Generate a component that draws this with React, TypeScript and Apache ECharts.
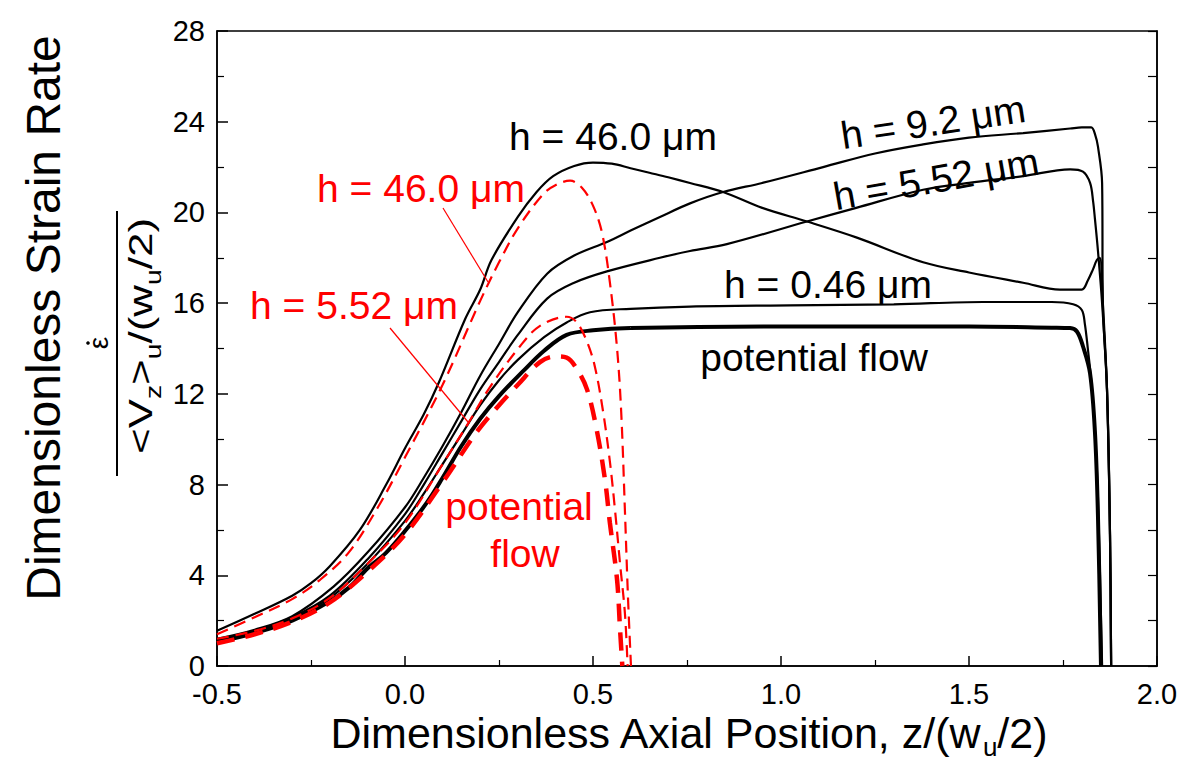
import React, { useEffect, useRef } from 'react';
import * as echarts from 'echarts';

const FONT = '"Liberation Sans", Arial, Helvetica, sans-serif';

// axis ranges / ticks
const X_MIN = -0.5;
const X_MAX = 2.0;
const X_STEP = 0.5;
const Y_MIN = 0;
const Y_MAX = 28;
const Y_STEP = 4;

// Black solid curves (h values)
const black46: number[][] = [
  [-0.5, 1.55], [-0.4, 2.3], [-0.3, 3.1], [-0.25, 3.65], [-0.2, 4.4], [-0.12, 6.0], [-0.05, 8.0],
  [0.0, 9.6], [0.05, 11.1], [0.09, 12.5], [0.16, 15.3], [0.2, 16.6], [0.23, 17.9], [0.3, 19.8],
  [0.35, 20.9], [0.394, 21.6], [0.45, 22.05], [0.5, 22.2], [0.55, 22.15], [0.6, 21.95], [0.65, 21.75],
  [0.7, 21.55], [0.758, 21.3], [0.846, 20.9], [0.95, 20.2], [1.069, 19.6], [1.2, 18.9], [1.378, 17.8],
  [1.5, 17.35], [1.644, 16.9], [1.742, 16.6], [1.8, 16.6], [1.816, 17.0], [1.83, 17.5], [1.84, 17.9],
  [1.848, 18.0], [1.856, 16.0], [1.867, 12.2], [1.875, 5.8], [1.878, 0],
];
const black92: number[][] = [
  [-0.5, 1.2], [-0.4, 1.6], [-0.3, 2.2], [-0.19, 3.5], [-0.1, 5.0], [0.0, 7.0], [0.05, 8.3],
  [0.1, 9.7], [0.15, 11.2], [0.2, 12.8], [0.25, 14.2], [0.3, 15.6], [0.378, 17.3], [0.45, 18.1],
  [0.537, 18.7], [0.6, 19.2], [0.678, 19.8], [0.758, 20.4], [0.846, 20.9], [0.95, 21.3], [1.112, 22.0],
  [1.25, 22.6], [1.378, 23.0], [1.5, 23.3], [1.644, 23.5], [1.769, 23.7], [1.8, 23.75], [1.825, 23.75],
  [1.836, 23.4], [1.843, 22.9], [1.854, 21.3], [1.856, 16.0], [1.867, 12.2], [1.875, 5.8], [1.878, 0],
];
const black552: number[][] = [
  [-0.5, 1.15], [-0.4, 1.55], [-0.3, 2.15], [-0.2, 3.1], [-0.1, 4.7], [0.0, 6.7], [0.05, 8.0],
  [0.1, 9.4], [0.15, 10.8], [0.2, 12.2], [0.25, 13.4], [0.3, 14.6], [0.378, 16.2], [0.45, 16.9],
  [0.537, 17.4], [0.678, 18.0], [0.758, 18.3], [0.856, 18.6], [1.069, 19.6], [1.2, 20.2], [1.378, 21.0],
  [1.5, 21.3], [1.644, 21.6], [1.769, 21.9], [1.803, 21.8], [1.822, 21.3], [1.83, 20.5], [1.835, 19.7],
  [1.843, 18.3], [1.854, 16.0], [1.867, 12.2], [1.875, 5.8], [1.878, 0],
];
const black046: number[][] = [
  [-0.5, 1.1], [-0.4, 1.5], [-0.3, 2.1], [-0.2, 3.0], [-0.1, 4.5], [0.0, 6.4], [0.05, 7.6],
  [0.1, 8.9], [0.15, 10.2], [0.2, 11.5], [0.25, 12.6], [0.3, 13.5], [0.37, 14.5], [0.43, 15.15],
  [0.492, 15.6], [0.6, 15.75], [0.758, 15.85], [1.024, 15.9], [1.3, 15.95], [1.537, 16.05], [1.72, 16.05],
  [1.777, 15.95], [1.8, 15.7], [1.808, 15.1], [1.816, 14.0], [1.825, 12.6], [1.835, 10.4], [1.843, 7.4],
  [1.854, 0],
];
const blackPotential: number[][] = [
  [-0.5, 1.05], [-0.4, 1.45], [-0.3, 2.0], [-0.2, 2.85], [-0.146, 3.5], [-0.1, 4.3], [-0.05, 5.0],
  [0.0, 5.95], [0.058, 7.2], [0.1, 8.3], [0.15, 9.7], [0.2, 10.9], [0.25, 11.9], [0.314, 13.0],
  [0.37, 13.9], [0.43, 14.6], [0.5, 14.8], [0.6, 14.9], [1.0, 14.97], [1.5, 14.97], [1.72, 14.92],
  [1.769, 14.9], [1.787, 14.75], [1.803, 14.1], [1.822, 12.9], [1.835, 10.3], [1.843, 6.6], [1.851, 0],
];

// Red dashed curves
const red46: number[][] = [
  [-0.5, 1.4], [-0.4, 2.15], [-0.3, 2.95], [-0.226, 3.8], [-0.15, 5.0], [-0.072, 7.0], [0.0, 9.2],
  [0.1, 12.4], [0.2, 16.1], [0.25, 17.8], [0.3, 19.3], [0.367, 20.8], [0.4, 21.2], [0.439, 21.4],
  [0.47, 21.1], [0.5, 20.3], [0.524, 19.1], [0.545, 16.9], [0.564, 14.0], [0.575, 11.2], [0.585, 6.8],
  [0.593, 3.05], [0.601, 0],
];
const red552: number[][] = [
  [-0.5, 1.2], [-0.4, 1.55], [-0.3, 2.1], [-0.2, 3.0], [-0.1, 4.5], [0.0, 6.3], [0.1, 8.9],
  [0.168, 10.7], [0.226, 12.3], [0.306, 14.1], [0.359, 15.0], [0.43, 15.4], [0.457, 15.15],
  [0.484, 14.3], [0.505, 13.2], [0.527, 11.2], [0.545, 9.0], [0.559, 6.8], [0.572, 4.5], [0.585, 2.3],
  [0.592, 0],
];
const redPotential: number[][] = [
  [-0.5, 1.0], [-0.4, 1.4], [-0.3, 1.95], [-0.2, 2.8], [-0.1, 4.15], [0.0, 5.8], [0.1, 8.1],
  [0.19, 10.3], [0.25, 11.5], [0.3, 12.4], [0.359, 13.4], [0.4, 13.65], [0.43, 13.6], [0.457, 13.1],
  [0.484, 12.2], [0.51, 10.4], [0.532, 8.2], [0.545, 6.3], [0.564, 3.8], [0.572, 1.6], [0.578, 0],
];

const canvasCtx = typeof document !== 'undefined' ? document.createElement('canvas').getContext('2d') : null;
function measure(t: string, size: number): number {
  if (!canvasCtx) return t.length * size * 0.55;
  canvasCtx.font = `${size}px ${FONT}`;
  return canvasCtx.measureText(t).width;
}

function textEl(text: string, x: number, y: number, size: number, color: string, rotDeg = 0) {
  return {
    type: 'text',
    x,
    y,
    rotation: (rotDeg * Math.PI) / 180,
    silent: true,
    z: 100,
    style: {
      text,
      font: `${size}px ${FONT}`,
      fill: color,
      textAlign: 'center',
      align: 'center',
      textVerticalAlign: 'middle',
      verticalAlign: 'middle',
    },
  };
}

type Seg = { t: string; s: number; dy: number };
function segText(segs: Seg[], cx: number, cy: number, rotation: number, color: string, targetW?: number) {
  const widths = segs.map((s) => measure(s.t, s.s));
  const W = widths.reduce((a, b) => a + b, 0);
  const scale = targetW ? targetW / W : 1;
  let cur = -W / 2;
  const children = segs.map((s, i) => {
    const el = {
      type: 'text',
      x: cur,
      y: s.dy,
      silent: true,
      style: {
        text: s.t,
        font: `${s.s}px ${FONT}`,
        fill: color,
        textAlign: 'left',
        align: 'left',
        textVerticalAlign: 'middle',
        verticalAlign: 'middle',
      },
    };
    cur += widths[i];
    return el;
  });
  return { type: 'group', x: cx, y: cy, rotation, scaleX: scale, z: 100, children };
}

function lineSeries(data: number[][], color: string, width: number, dash?: number[]) {
  return {
    type: 'line',
    data,
    showSymbol: false,
    symbol: 'none',
    smooth: 0.35,
    silent: true,
    clip: true,
    lineStyle: { color, width, type: dash ? dash : 'solid' },
  };
}

export default function App() {
  const ref = useRef<HTMLDivElement>(null);
  useEffect(() => {
    document.body.style.margin = '0';
    const chart = echarts.init(ref.current!, null, { renderer: 'svg' });
    const RED = '#ff0000';
    const LBL = 39;
    const axisLine = { show: true, onZero: false, lineStyle: { color: '#000', width: 1.5 } };
    const graphics: any[] = [
      // y-axis title
      textEl('Dimensionless Strain Rate', 43, 318, 48, '#000', 90),
      // fraction
      { type: 'line', silent: true, shape: { x1: 117, y1: 211, x2: 117, y2: 476 }, style: { stroke: '#000', lineWidth: 2 } },
      textEl('ε', 98, 343, 28, '#000', 90),
      { type: 'circle', silent: true, shape: { cx: 88, cy: 343, r: 1.8 }, style: { fill: '#000' } },
      segText(
        [
          { t: '<V', s: 34, dy: 0 },
          { t: 'z', s: 22, dy: 13 },
          { t: '>', s: 34, dy: 0 },
          { t: 'u', s: 22, dy: 13 },
          { t: '/(w', s: 34, dy: 0 },
          { t: 'u', s: 22, dy: 13 },
          { t: '/2)', s: 34, dy: 0 },
        ],
        140,
        336,
        Math.PI / 2,
        '#000',
        236
      ),
      // x-axis title
      segText(
        [
          { t: 'Dimensionless Axial Position, z/(w', s: 43, dy: 0 },
          { t: 'u', s: 26, dy: 14 },
          { t: '/2)', s: 43, dy: 0 },
        ],
        689,
        733,
        0,
        '#000'
      ),
      // black labels
      textEl('h = 46.0 μm', 613, 136, LBL, '#000'),
      textEl('h = 9.2 μm', 933, 122, LBL, '#000', 8.5),
      textEl('h = 5.52 μm', 936, 179, LBL, '#000', 10),
      textEl('h = 0.46 μm', 828, 284, LBL, '#000'),
      textEl('potential flow', 814, 357, LBL, '#000'),
      // red labels
      textEl('h = 46.0 μm', 421, 188, LBL, RED),
      textEl('h = 5.52 μm', 354, 305, LBL, RED),
      textEl('potential', 519, 506, LBL, RED),
      textEl('flow', 525, 553, LBL, RED),
      { type: 'line', silent: true, z: 100, shape: { x1: 443, y1: 208, x2: 488, y2: 282 }, style: { stroke: RED, lineWidth: 1.2 } },
      { type: 'line', silent: true, z: 100, shape: { x1: 390, y1: 328, x2: 468, y2: 422 }, style: { stroke: RED, lineWidth: 1.2 } },
    ];

    chart.setOption({
      animation: false,
      backgroundColor: '#fff',
      grid: { left: 217, right: 29, top: 31, bottom: 97, show: true, borderColor: '#000', borderWidth: 1.5, backgroundColor: 'transparent' },
      xAxis: [
        {
          type: 'value',
          min: X_MIN,
          max: X_MAX,
          interval: X_STEP,
          axisLine,
          splitLine: { show: false },
          minorSplitLine: { show: false },
          axisTick: { show: true, inside: true, length: 10, lineStyle: { color: '#000', width: 1.5 } },
          minorTick: { show: true, splitNumber: 2, length: 6, lineStyle: { color: '#000', width: 1.2 } },
          axisLabel: {
            fontSize: 29,
            lineHeight: 26,
            color: '#000',
            fontFamily: FONT,
            margin: 15,
            formatter: (v: number) => v.toFixed(1),
          },
        },
      ],
      yAxis: [
        {
          type: 'value',
          min: Y_MIN,
          max: Y_MAX,
          interval: Y_STEP,
          axisLine,
          splitLine: { show: false },
          minorSplitLine: { show: false },
          axisTick: { show: true, inside: true, length: 11, lineStyle: { color: '#000', width: 1.5 } },
          minorTick: { show: true, splitNumber: 2, length: 7, lineStyle: { color: '#000', width: 1.2 } },
          axisLabel: { fontSize: 29, lineHeight: 24, color: '#000', fontFamily: FONT, margin: 12 },
        },
        {
          type: 'value',
          position: 'right',
          min: Y_MIN,
          max: Y_MAX,
          interval: Y_STEP / 2,
          axisLine,
          splitLine: { show: false },
          axisTick: { show: true, inside: true, length: 9, lineStyle: { color: '#000', width: 1.2 } },
          axisLabel: { show: false },
        },
      ],
      series: [
        lineSeries(black46, '#000', 2.2),
        lineSeries(black92, '#000', 2.2),
        lineSeries(black552, '#000', 2.2),
        lineSeries(black046, '#000', 2.2),
        lineSeries(blackPotential, '#000', 4),
        lineSeries(red46, RED, 2.2, [12, 7]),
        lineSeries(red552, RED, 2.2, [12, 7]),
        lineSeries(redPotential, RED, 4.5, [18, 11]),
      ],
      graphic: graphics,
    });
    return () => chart.dispose();
  }, []);
  return <div ref={ref} style={{ width: 1186, height: 763 }} />;
}
